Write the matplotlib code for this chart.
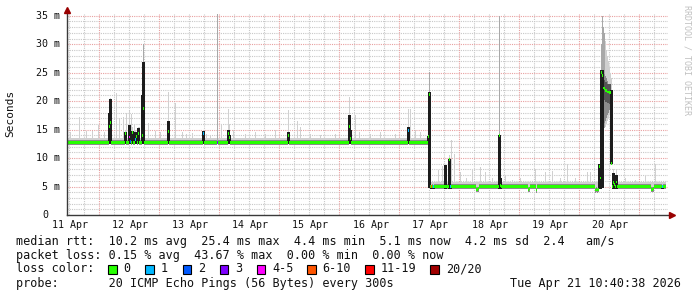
import numpy as np
import matplotlib
matplotlib.use("Agg")
import matplotlib.pyplot as plt
from matplotlib.patches import Rectangle

# ---------------- data (time in days since graph start) ----------------
day_labels = ["11 Apr", "12 Apr", "13 Apr", "14 Apr", "15 Apr",
              "16 Apr", "17 Apr", "18 Apr", "19 Apr", "20 Apr"]
y_labels = ["0", "5 m", "10 m", "15 m", "20 m", "25 m", "30 m", "35 m"]
y_label_values = [0, 5, 10, 15, 20, 25, 30, 35]

data_end = 9.98
# baseline periods
seg_start = [0.0, 6.05]
seg_end = [6.05, 9.98]
seg_median = [12.8, 5.0]
seg_smoke_top = [13.6, 5.8]

# spikes: time, median, dense smoke low, dense smoke top, smoke max, loss class
spike_day = [0.700, 0.717, 0.967, 1.033, 1.050, 1.083, 1.133, 1.150, 1.183,
             1.250, 1.267, 1.683, 2.267, 2.500, 2.683, 2.700, 3.683, 4.700,
             4.717, 5.683, 6.017, 6.033, 6.067, 6.100, 6.300, 6.367, 6.383,
             7.200, 7.217, 8.867, 8.883, 8.900, 8.917, 9.067, 9.100, 9.117,
             9.150, 9.917]
spike_median = [15.6, 16.3, 14.3, 13.7, 12.9, 14.5, 13.3, 13.8, 14.3,
                14.0, 18.7, 14.6, 14.3, 12.8, 14.3, 13.6, 14.0, 15.5,
                13.5, 14.9, 13.8, 21.1, 5.0, 5.0, 5.0, 9.8, 5.0,
                14.0, 5.2, 8.5, 6.5, 25.1, 24.5, 9.1, 5.7, 5.3,
                5.8, 5.0]
spike_dense_lo = [12.4, 12.4, 12.4, 12.4, 12.4, 12.4, 12.4, 12.4, 12.4,
                  12.4, 12.4, 12.4, 12.4, 12.4, 12.4, 12.4, 12.4, 12.4,
                  12.4, 12.4, 12.4, 4.8, 4.6, 4.6, 4.6, 4.6, 4.6,
                  4.6, 4.6, 4.6, 4.6, 4.8, 4.8, 9.0, 4.6, 4.6,
                  4.6, 4.6]
spike_dense_top = [18.0, 20.3, 14.6, 15.8, 14.0, 14.8, 14.6, 14.0, 15.2,
                   21.0, 26.8, 16.6, 14.8, 12.8, 15.0, 14.0, 14.5, 17.5,
                   15.0, 15.5, 13.8, 21.6, 5.0, 5.0, 8.8, 9.9, 5.0,
                   14.0, 6.5, 9.0, 9.0, 25.4, 25.4, 22.0, 7.3, 7.0,
                   7.0, 5.0]
spike_smoke_max = [19.0, 20.5, 15.0, 18.3, 16.0, 15.5, 15.0, 14.0, 15.5,
                   22.0, 30.0, 21.6, 15.0, 35.3, 18.7, 16.0, 18.4, 20.7,
                   17.0, 18.6, 14.4, 25.1, 5.8, 5.8, 8.8, 10.5, 5.8,
                   35.0, 6.5, 9.0, 9.0, 30.0, 35.0, 24.0, 8.0, 7.0,
                   8.0, 5.8]
spike_loss = [0, 0, 0, 4, 2, 0, 1, 0, 0,
              0, 0, 0, 1, 3, 0, 0, 0, 0,
              0, 1, 0, 0, 5, 1, 0, 0, 1,
              0, 0, 0, 0, 0, 0, 0, 0, 0,
              0, 1]

# broad smoke cloud of the 20 Apr event
cloud_day = [8.933, 8.950, 8.967, 8.983, 9.000, 9.017, 9.033, 9.050]
cloud_median = [22.3, 22.2, 21.9, 21.8, 21.6, 21.6, 21.5, 21.5]
cloud_lo = [15.0, 15.2, 15.5, 16.0, 16.5, 17.0, 17.5, 18.0]
cloud_hi = [25.0, 24.8, 24.5, 24.0, 23.5, 23.0, 23.0, 22.5]
cloud_max = [33.0, 32.0, 30.5, 29.0, 28.0, 27.0, 26.0, 25.0]

# isolated light smoke whiskers (max ping)
whisker_day = [0.050, 0.200, 0.317, 0.417, 0.517, 0.617, 0.817, 0.867, 0.933,
               0.983, 1.067, 1.117, 1.200, 1.350, 1.467, 1.550, 1.800, 1.917,
               1.983, 2.083, 2.317, 2.383, 2.567, 2.767, 2.967, 3.133, 3.300,
               3.467, 3.833, 3.883, 4.050, 4.217, 4.467, 4.800, 4.867, 5.050,
               5.217, 5.467, 5.717, 5.800, 5.883,
               6.183, 6.250, 6.400, 6.450, 6.550, 6.650, 6.750, 6.883, 6.967,
               7.083, 7.300, 7.417, 7.550, 7.800, 7.967, 8.083, 8.217, 8.333,
               8.467, 8.667, 8.717, 9.300, 9.467, 9.633, 9.800]
whisker_top = [14.5, 17.2, 14.8, 14.8, 15.8, 14.5, 21.4, 17.0, 17.2,
               18.0, 17.8, 16.0, 15.5, 16.1, 14.8, 14.5, 19.7, 14.5,
               14.3, 14.4, 14.3, 14.0, 16.0, 15.0, 14.2, 14.5, 14.2,
               14.9, 16.5, 15.5, 14.3, 14.0, 14.2, 17.5, 14.5, 14.3,
               14.5, 14.2, 18.6, 15.0, 14.6,
               7.9, 8.6, 13.1, 10.7, 7.6, 6.5, 8.0, 8.5, 7.6,
               6.5, 7.0, 6.2, 6.5, 8.0, 7.6, 7.8, 6.5, 9.0,
               6.5, 7.6, 7.5, 6.5, 6.2, 6.8, 9.0]

# small dips of the median
dip_day = [6.817, 6.833, 6.850, 7.683, 7.700, 7.817, 8.800, 8.817, 8.833,
           8.850, 9.733, 9.750, 9.767]
dip_median = [4.5, 4.5, 4.6, 4.5, 4.6, 4.4, 4.4, 4.5, 4.4,
              4.5, 4.5, 4.5, 4.6]

loss_colors = ["#26ff00", "#00b8ff", "#0059ff", "#7e00ff",
               "#ff00ff", "#ff5500", "#ff0000", "#a10000"]
loss_names = ["0", "1", "2", "3", "4-5", "6-10", "11-19", "20/20"]

legend_rtt = "median rtt:  10.2 ms avg  25.4 ms max  4.4 ms min  5.1 ms now  4.2 ms sd  2.4   am/s"
legend_loss = "packet loss: 0.15 % avg  43.67 % max  0.00 % min  0.00 % now"
legend_probe = "probe:       20 ICMP Echo Pings (56 Bytes) every 300s"
legend_date = "Tue Apr 21 10:40:38 2026"

# ---------------- build per-pixel buckets ----------------
PER_DAY = 60
N = int(round(data_end * PER_DAY))
tb = np.arange(N + 1) / PER_DAY
med = np.full(N, np.nan)
lo = np.full(N, np.nan)
smax = np.full(N, np.nan)
mlo = np.full(N, np.nan)
mhi = np.full(N, np.nan)
dlo = np.full(N, np.nan)
dtop = np.full(N, np.nan)
clo = np.full(N, np.nan)
chi = np.full(N, np.nan)
loss = np.zeros(N, dtype=int)

for s0, s1, m, top in zip(seg_start, seg_end, seg_median, seg_smoke_top):
    sel = (tb[:-1] >= s0 - 1e-9) & (tb[:-1] < s1 - 1e-9)
    med[sel] = m
    lo[sel] = m - 0.45
    mlo[sel] = m - 0.45
    mhi[sel] = m + 0.4
    smax[sel] = top

for d, m in zip(dip_day, dip_median):
    i = int(round(d * PER_DAY))
    med[i] = m
    lo[i] = m - 0.5
    mlo[i] = m - 0.5
    mhi[i] = m + 0.4

for d, top in zip(whisker_day, whisker_top):
    i = int(round(d * PER_DAY))
    smax[i] = max(smax[i], top)

for d, m, a, b, mx, ls in zip(spike_day, spike_median, spike_dense_lo,
                              spike_dense_top, spike_smoke_max, spike_loss):
    i = int(round(d * PER_DAY))
    med[i] = m
    lo[i] = a
    mlo[i] = np.nan
    mhi[i] = np.nan
    if b > a + 0.3:
        dlo[i] = a
        dtop[i] = b
    smax[i] = max(mx, m + 0.3)
    loss[i] = ls

for d, m, a, b, mx in zip(cloud_day, cloud_median, cloud_lo, cloud_hi, cloud_max):
    i = int(round(d * PER_DAY))
    med[i] = m
    lo[i] = a
    mlo[i] = a + 1.0
    mhi[i] = b
    smax[i] = mx
    clo[i] = m - 2.0
    chi[i] = m + 1.5

# ---------------- figure ----------------
W, H = 697, 297
fig = plt.figure(figsize=(W / 100, H / 100), dpi=100)
fig.patch.set_facecolor("white")

x_left, x_right = 67, 668
y_bottom, y_top = 215, 13.5
ymax = 35.4
ax = fig.add_axes([x_left / W, (H - y_bottom) / H,
                   (x_right - x_left) / W, (y_bottom - y_top) / H])
ax.set_xlim(0, (x_right - x_left) / PER_DAY)
ax.set_ylim(0, ymax)
ax.set_facecolor("white")
for s in ax.spines.values():
    s.set_visible(False)
ax.set_xticks([])
ax.set_yticks([])

# grid
minor_col = "#c8c8c8"
major_col = "#e8a0a0"
dot = (0, (1, 1))
for v in range(1, 36):
    if v % 5:
        ax.axhline(v, color=minor_col, lw=0.8, ls=dot, zorder=0.5)
for v in range(5, 36, 5):
    ax.axhline(v, color=major_col, lw=0.8, ls=dot, zorder=0.6)
k = 0
while 0.033 + 0.25 * k < ax.get_xlim()[1]:
    xv = 0.033 + 0.25 * k
    if k % 4 != 2:
        ax.axvline(xv, color=minor_col, lw=0.8, ls=dot, zorder=0.5)
    else:
        ax.axvline(xv, color=major_col, lw=0.8, ls=dot, zorder=0.6)
    k += 1

w = 1.0 / PER_DAY
x0 = tb[:-1]
ok = ~np.isnan(lo)
tall = ok & ((smax - lo) > 15)
light = ok & ~tall
ax.bar(x0[light], (smax - lo)[light], bottom=lo[light], width=w, align="edge",
       color="#d0d0d0", lw=0, antialiased=False, zorder=2)
ax.bar(x0[tall] - 0.2 * w, (smax - lo)[tall], bottom=lo[tall], width=1.4 * w,
       align="edge", color="#a8a8a8", lw=0, antialiased=False, zorder=2)
ok = ~np.isnan(mlo)
ax.bar(x0[ok], (mhi - mlo)[ok], bottom=mlo[ok], width=w, align="edge",
       color="#8c8c8c", lw=0, antialiased=False, zorder=3)
ok = ~np.isnan(clo)
ax.bar(x0[ok], (chi - clo)[ok], bottom=clo[ok], width=w, align="edge",
       color="#555555", lw=0, antialiased=False, zorder=3.5)
ok = ~np.isnan(dlo)
ax.bar(x0[ok] - 0.6 * w, (dtop - dlo)[ok], bottom=dlo[ok], width=2.2 * w,
       align="edge", color="#1c1c1c", lw=0, antialiased=False, zorder=4)
ok = ~np.isnan(med)
ax.bar(x0[ok], np.full(ok.sum(), 0.5), bottom=med[ok] - 0.25, width=w,
       align="edge", color=[loss_colors[c] for c in loss[ok]], lw=0,
       antialiased=False, zorder=5)

# axes lines & arrows
axis_col = "#3a3a3a"
ax.plot([0, 0], [0, ymax + 0.3], color=axis_col, lw=1, clip_on=False, zorder=6)
ax.plot([0, ax.get_xlim()[1] + 0.03], [0, 0], color=axis_col, lw=1,
        clip_on=False, zorder=6)
ax.plot([0], [ymax + 0.7], marker="^", color="#990000", ms=4, clip_on=False,
        zorder=7)
ax.plot([ax.get_xlim()[1] + 0.07], [0], marker=">", color="#990000", ms=4,
        clip_on=False, zorder=7)

mono = "DejaVu Sans Mono"
px_per_ms = (y_bottom - y_top) / ymax

# y tick labels
for v, lab in zip(y_label_values, y_labels):
    yp = y_bottom - v * px_per_ms
    xr = 60 if v else 48.5
    fig.text(xr / W, 1 - yp / H, lab, ha="right", va="center",
             family=mono, size=7.2, color="#111111")

# x tick labels
for k, lab in enumerate(day_labels):
    xp = 70.5 + 60 * k
    fig.text(xp / W, 1 - 225 / H, lab, ha="center", va="center",
             family=mono, size=7.2, color="#111111")

fig.text(10.7 / W, 1 - 113.5 / H, "Seconds", rotation=90, ha="center",
         va="center", family=mono, size=8, color="#111111")

fig.text(687.5 / W, 1 - 60 / H, "RRDTOOL / TOBI OETIKER", rotation=270,
         ha="center", va="center", family=mono, size=6, color="#c0c0c0")

# legend
leg_size = 8.5
def put(x, y, s, ha="left"):
    fig.text(x / W, 1 - y / H, s, ha=ha, va="center", family=mono,
             size=leg_size, color="#111111")

put(16.4, 241, legend_rtt)
put(16.4, 255, legend_loss)
put(16.4, 269, "loss color:")
box_x = [108, 145.3, 182.7, 219.6, 256.9, 307.1, 365.3, 430.2]
for x, c, s in zip(box_x, loss_colors, loss_names):
    fig.add_artist(Rectangle((x / W, 1 - 273.5 / H), 8.5 / W, 9 / H,
                             transform=fig.transFigure, facecolor=c,
                             edgecolor="#000000", lw=0.8))
    put(x + 15.6, 269, s)
put(16.4, 283, legend_probe)
put(680.5, 283, legend_date, ha="right")

fig.savefig("out.png", dpi=100, facecolor="white")
